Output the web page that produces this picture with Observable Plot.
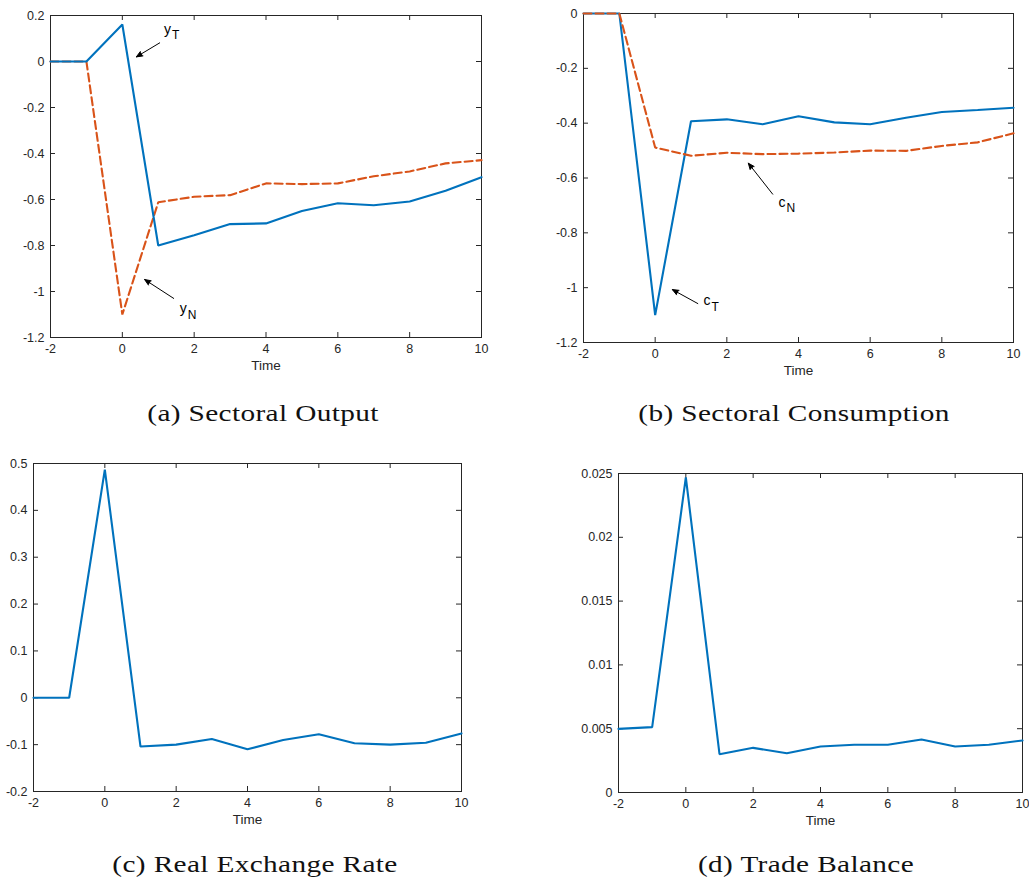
<!DOCTYPE html>
<html>
<head>
<meta charset="utf-8">
<script src="https://cdn.jsdelivr.net/npm/d3@7"></script>
<script src="https://cdn.jsdelivr.net/npm/@observablehq/plot@0.6"></script>
<style>
  html, body { margin: 0; padding: 0; background: #fff; }
  #root { position: relative; width: 1029px; height: 880px; overflow: hidden; background: #fff; }
  .panel { position: absolute; }
  .caption { position: absolute; font-family: "Liberation Serif", "Times New Roman", serif; font-size: 24px; color: #111; white-space: nowrap; transform: translateX(-50%) scaleX(1.22); letter-spacing: 0.3px; }
</style>
</head>
<body>
<div id="root"></div>
<script>
// ---------- data ----------
const time = [-2, -1, 0, 1, 2, 3, 4, 5, 6, 7, 8, 9, 10];

// (a) Sectoral Output
const yT = [0, 0, 0.161, -0.800, -0.755, -0.707, -0.704, -0.650, -0.616, -0.625, -0.609, -0.562, -0.503];
const yN = [0, 0, -1.100, -0.612, -0.588, -0.581, -0.530, -0.533, -0.530, -0.499, -0.478, -0.443, -0.429];

// (b) Sectoral Consumption
const cT = [0, 0, -1.100, -0.393, -0.386, -0.404, -0.375, -0.397, -0.404, -0.380, -0.359, -0.352, -0.344];
const cN = [0, 0, -0.489, -0.519, -0.508, -0.513, -0.511, -0.507, -0.500, -0.501, -0.483, -0.470, -0.437];

// (c) Real Exchange Rate
const rer = [0, 0, 0.487, -0.104, -0.100, -0.088, -0.110, -0.090, -0.078, -0.097, -0.100, -0.096, -0.076];

// (d) Trade Balance
const tb = [0.00499, 0.00512, 0.0247, 0.0030, 0.0035, 0.00308, 0.0036, 0.00374, 0.00374, 0.00415, 0.0036, 0.00374, 0.00408];

// tick labels
const xTicks = [-2, 0, 2, 4, 6, 8, 10];
const yTicksA = [0.2, 0, -0.2, -0.4, -0.6, -0.8, -1, -1.2];
const yTicksB = [0, -0.2, -0.4, -0.6, -0.8, -1, -1.2];
const yTicksC = [0.5, 0.4, 0.3, 0.2, 0.1, 0, -0.1, -0.2];
const yTicksD = [0, 0.005, 0.01, 0.015, 0.02, 0.025];

// annotations (data coordinates): arrow tail -> head, label position
const notesA = [
  {main: "y", sub: "T", x1: 1.04, y1: 0.081, x2: 0.39, y2: 0.020, lx: 1.16, ly: 0.140},
  {main: "y", sub: "N", x1: 1.43, y1: -1.030, x2: 0.62, y2: -0.948, lx: 1.60, ly: -1.075}
];
const notesB = [
  {main: "c", sub: "N", x1: 3.28, y1: -0.659, x2: 2.60, y2: -0.546, lx: 3.44, ly: -0.688},
  {main: "c", sub: "T", x1: 1.19, y1: -1.058, x2: 0.48, y2: -1.007, lx: 1.35, ly: -1.048}
];

const captions = ["(a)  Sectoral Output", "(b)  Sectoral Consumption", "(c)  Real Exchange Rate", "(d)  Trade Balance"];

// ---------- styles ----------
const BLUE = "#0072BD", ORANGE = "#D95319", AX = "#262626";
const FONT = "'Liberation Sans', Arial, Helvetica, sans-serif";

function series(vals, name) { return time.map((t, i) => ({t, v: vals[i], name})); }

function panel({left, top, width, height, mt, mr, mb, ml, ydomain, yticks, lines, notes}) {
  const ph = height - mt - mb, pw = width - ml - mr;
  const fmt = d => String(d);
  const marks = [
    Plot.frame({stroke: AX, strokeWidth: 1}),
    // inward ticks on all four sides
    Plot.tickX(xTicks, {x: d => d, stroke: AX, insetTop: ph - 5}),
    Plot.tickX(xTicks, {x: d => d, stroke: AX, insetBottom: ph - 5}),
    Plot.tickY(yticks, {y: d => d, stroke: AX, insetRight: pw - 5}),
    Plot.tickY(yticks, {y: d => d, stroke: AX, insetLeft: pw - 5}),
    Plot.axisX({ticks: xTicks, tickSize: 0, tickPadding: 7, tickFormat: fmt, label: null, fontSize: 12.5, color: AX}),
    Plot.axisY({ticks: yticks, tickSize: 0, tickPadding: 6, tickFormat: fmt, label: null, fontSize: 12.5, color: AX}),
    Plot.text(["Time"], {frameAnchor: "bottom", dy: 32, fontSize: 13.5, fill: AX})
  ];
  for (const L of lines) {
    marks.push(Plot.line(L.data, {x: "t", y: "v", stroke: L.color, strokeWidth: 2.1, strokeDasharray: L.dash || null, strokeLinejoin: "miter"}));
  }
  if (notes) {
    marks.push(Plot.arrow(notes, {x1: "x1", y1: "y1", x2: "x2", y2: "y2", stroke: "black", fill: "black", strokeWidth: 1, headLength: 10, headAngle: 45}));
    marks.push(Plot.text(notes, {x: "lx", y: "ly", text: "main", textAnchor: "start", fontSize: 14, fill: "black"}));
    marks.push(Plot.text(notes, {x: "lx", y: "ly", text: "sub", textAnchor: "start", dx: 8, dy: 6, fontSize: 12, fill: "black"}));
  }
  const svg = Plot.plot({
    width, height, marginTop: mt, marginRight: mr, marginBottom: mb, marginLeft: ml,
    style: {fontFamily: FONT, fontSize: "12.5px", background: "white", overflow: "visible"},
    x: {domain: [-2, 10]},
    y: {domain: ydomain},
    marks
  });
  const div = document.createElement("div");
  div.className = "panel";
  div.style.left = left + "px";
  div.style.top = top + "px";
  div.appendChild(svg);
  document.getElementById("root").appendChild(div);
}

panel({left: 0, top: 0, width: 501, height: 382, mt: 15, mr: 20, mb: 45, ml: 50,
  ydomain: [-1.2, 0.2], yticks: yTicksA,
  lines: [{data: series(yN, "yN"), color: ORANGE, dash: "8,4"}, {data: series(yT, "yT"), color: BLUE}],
  notes: notesA});

panel({left: 520, top: 0, width: 509, height: 387, mt: 13, mr: 16, mb: 45, ml: 63,
  ydomain: [-1.2, 0], yticks: yTicksB,
  lines: [{data: series(cT, "cT"), color: BLUE}, {data: series(cN, "cN"), color: ORANGE, dash: "8,4"}],
  notes: notesB});

panel({left: 0, top: 440, width: 481, height: 396, mt: 23, mr: 20, mb: 45, ml: 33,
  ydomain: [-0.2, 0.5], yticks: yTicksC,
  lines: [{data: series(rer, "rer"), color: BLUE}]});

panel({left: 560, top: 440, width: 469, height: 397, mt: 33, mr: 7, mb: 45, ml: 58,
  ydomain: [0, 0.025], yticks: yTicksD,
  lines: [{data: series(tb, "tb"), color: BLUE}]});

const capPos = [[263, 400], [794, 400], [255, 851], [806, 851]];
captions.forEach((c, i) => {
  const d = document.createElement("div");
  d.className = "caption";
  d.style.left = capPos[i][0] + "px";
  d.style.top = capPos[i][1] + "px";
  d.textContent = c;
  document.getElementById("root").appendChild(d);
});
</script>
</body>
</html>
